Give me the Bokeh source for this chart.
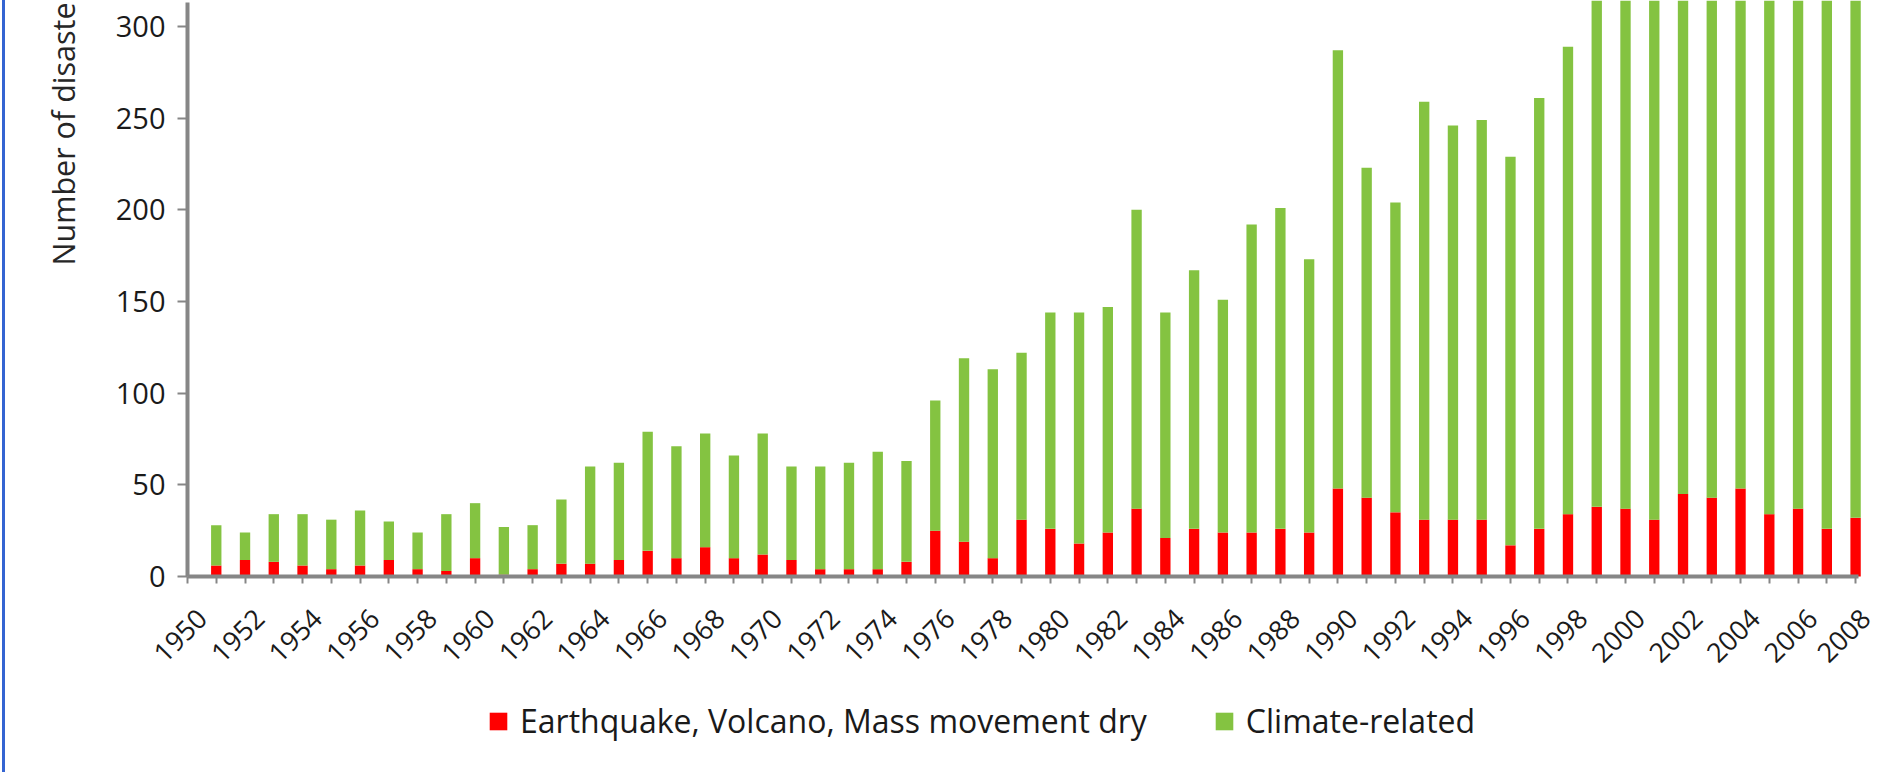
from math import pi
from bokeh.plotting import figure
from bokeh.models import (Range1d, FixedTicker, Legend, LegendItem, Label, LinearAxis,
                          ColumnDataSource, CustomJSTickFormatter)
from bokeh.embed import file_html
from bokeh.resources import INLINE

# ---------------- data ----------------
years = list(range(1951, 2009))
total = [28, 24, 34, 34, 31, 36, 30, 24, 34, 40,
         27, 28, 42, 60, 62, 79, 71, 78, 66, 78,
         60, 60, 62, 68, 63, 96, 119, 113, 122, 144,
         144, 147, 200, 144, 167, 151, 192, 201, 173, 287,
         223, 204, 259, 246, 249, 229, 261, 289, 360, 425,
         380, 420, 370, 355, 430, 400, 410, 350]
geophysical = [6, 9, 8, 6, 4, 6, 9, 4, 3, 10,
               1, 4, 7, 7, 9, 14, 10, 16, 10, 12,
               9, 4, 4, 4, 8, 25, 19, 10, 31, 26,
               18, 24, 37, 21, 26, 24, 24, 26, 24, 48,
               43, 35, 31, 31, 31, 17, 26, 34, 38, 37,
               31, 45, 43, 48, 34, 37, 26, 32]
climate_related = [t - g for t, g in zip(total, geophysical)]
tick_years = list(range(1950, 2009, 2))
all_years = list(range(1950, 2009))
y_ticks = [0, 50, 100, 150, 200, 250, 300]
series_names = ["Earthquake, Volcano, Mass movement dry", "Climate-related"]
series_colors = ["#FF0000", "#84C341"]
y_title = "Number of disaste"   # the original title is cut off at the top

# ---------------- layout constants (pixels) ----------------
W, H = 1870, 772
AX_LEFT_PX = 182          # x of the value axis (category 1950)
AX_BOTTOM_PX = 576        # y of the category axis (value 0), from top
PX_PER_YEAR = 28.76
PX_PER_UNIT = 1.8333
LABEL_SHIFT = 0.5         # year labels end slightly right of their tick
FONT = "Open Sans"
AXIS_GRAY = "#868686"

x0 = 1950 - AX_LEFT_PX / PX_PER_YEAR
x1 = x0 + W / PX_PER_YEAR
y1 = AX_BOTTOM_PX / PX_PER_UNIT
y0 = y1 - H / PX_PER_UNIT

source = ColumnDataSource(dict(year=years, geo=geophysical, clim=climate_related))

p = figure(width=W, height=H, output_backend="svg", toolbar_location=None,
           x_range=Range1d(x0, x1), y_range=Range1d(y0, y1),
           x_axis_type=None, y_axis_type=None, min_border=0,
           styles={"border-left": "3px solid #3464d2", "margin-left": "2px"})

rs = p.vbar_stack(["geo", "clim"], x="year", width=0.36, source=source,
                  fill_color=series_colors, line_color=None)

p.outline_line_color = None
p.background_fill_color = "white"
p.border_fill_color = "white"

# category axis: line + tick marks
xa = LinearAxis(fixed_location=0, bounds=(1950, 2008.1),
                ticker=FixedTicker(ticks=[], minor_ticks=all_years),
                axis_line_color=AXIS_GRAY, axis_line_width=4,
                major_tick_line_color=None,
                minor_tick_line_color=AXIS_GRAY, minor_tick_line_width=2,
                minor_tick_in=0, minor_tick_out=7)
p.add_layout(xa, "below")

# category axis: rotated year labels (their ends sit just right of the tick)
xl = LinearAxis(fixed_location=0,
                ticker=FixedTicker(ticks=[t + LABEL_SHIFT for t in tick_years]),
                formatter=CustomJSTickFormatter(
                    code="return Math.round(tick - %s).toFixed(0);" % LABEL_SHIFT),
                axis_line_color=None, major_tick_line_color=None,
                minor_tick_line_color=None, major_tick_out=7, major_tick_in=0,
                major_label_orientation=pi / 4, major_label_standoff=30,
                major_label_text_font=FONT, major_label_text_font_size="27px",
                major_label_text_color="#1a1a1a")
p.add_layout(xl, "below")

# value axis
ya = LinearAxis(fixed_location=1950, bounds=(0, 313.1),
                ticker=FixedTicker(ticks=y_ticks),
                axis_line_color=AXIS_GRAY, axis_line_width=4,
                major_tick_line_color=AXIS_GRAY, major_tick_line_width=2,
                major_tick_in=0, major_tick_out=10, minor_tick_line_color=None,
                major_label_standoff=12,
                major_label_text_font=FONT, major_label_text_font_size="29px",
                major_label_text_color="#1a1a1a")
p.add_layout(ya, "left")

p.ygrid.grid_line_color = "#8C8C8C"
p.ygrid.grid_line_width = 2.5
p.ygrid.ticker = FixedTicker(ticks=y_ticks[1:])
p.ygrid.bounds = (1950, 2007.82)

# y axis title, top end at the top of the picture
p.add_layout(Label(x=1950 - 125 / PX_PER_YEAR, y=313.1, text=y_title, angle=pi / 2,
                   text_align="right", text_baseline="middle",
                   text_font=FONT, text_font_size="30.5px", text_color="#262626"))

legend = Legend(items=[LegendItem(label=series_names[0], renderers=[rs[0]]),
                       LegendItem(label=series_names[1], renderers=[rs[1]])],
                orientation="horizontal", location=(482, 30),
                glyph_width=22, glyph_height=22, label_standoff=11, spacing=66,
                padding=0, margin=0, border_line_color=None,
                background_fill_alpha=0,
                label_text_font=FONT, label_text_font_size="32px",
                label_text_color="#1a1a1a")
p.add_layout(legend)

open("out.html", "w").write(file_html(p, INLINE))
